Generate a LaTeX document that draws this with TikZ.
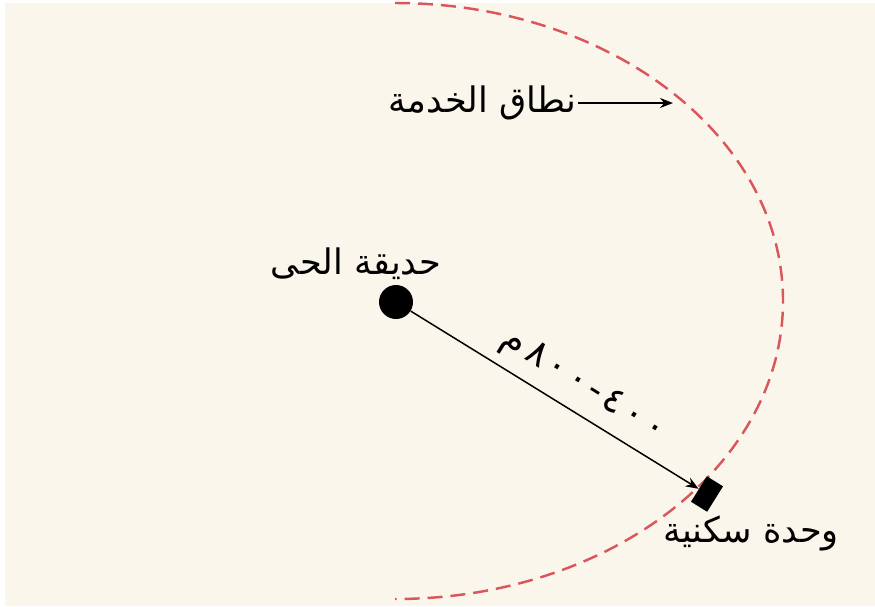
\documentclass[tikz,border=0pt]{standalone}
\usepackage{fontspec}
\usetikzlibrary{arrows.meta,positioning}
\newfontfamily\arabicfont[Script=Arabic]{DejaVu Sans}
\newfontfamily\arabicwide[Script=Arabic,LetterSpace=12]{DejaVu Sans}
\TeXXeTstate=1
\definecolor{paper}{HTML}{FBF6EC}
\definecolor{zonered}{HTML}{D9575A}

\begin{document}
\begin{tikzpicture}[
    x=0.02cm, y=-0.02cm,
    caption/.style={font=\arabicfont\fontsize{20}{24}\selectfont,inner sep=1pt},
    spot/.style={circle,fill=black,minimum size=0.68cm,inner sep=0pt},
    house/.style={rectangle,fill=black,minimum width=0.38cm,minimum height=0.6cm,inner sep=0pt,rotate=-32},
    arrow/.style={-{Stealth[length=2.6mm,width=2mm]},line width=0.85pt,draw=black},
    zone/.style={draw=zonered,line width=1.4pt,dash pattern=on 0.3cm off 0.16cm}
  ]
    % paper
    \fill[white] (0,0) rectangle (875,606);
    \fill[paper] (5,3) rectangle (875,606);
    \useasboundingbox (0,0) rectangle (875,606);
    % service range
    \draw[zone] (395,3) arc[start angle=-90,end angle=90,x radius=388,y radius=298];
    \coordinate (rimpoint) at (673,103);
    \node[caption,anchor=east] (service) at (578,103) {\beginR نطاق الخدمة\endR};
    \draw[arrow] (service) -- (rimpoint);
    % park and dwelling
    \node[spot] (park) at (396,302) {};
    \node[house] (unit) at (707,494) {};
    \node[caption] (parklabel) at (356,264) {\beginR حديقة الحى\endR};
    \node[caption] (unitlabel) at (751,533) {\beginR وحدة سكنية\endR};
    \draw[arrow] (park) -- node[caption,font=\arabicwide\fontsize{21}{24}\selectfont,sloped,above=1.5mm,pos=0.55] (dist) {\beginR ٤٠٠-٨٠٠م\endR} (unit);
  \end{tikzpicture}
\end{document}
